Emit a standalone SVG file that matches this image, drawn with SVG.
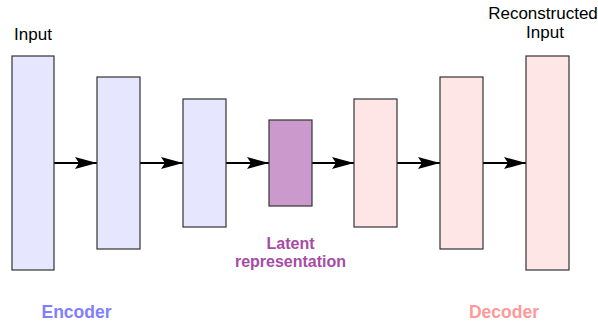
<svg xmlns="http://www.w3.org/2000/svg" width="598" height="327" viewBox="0 0 598 327">
<style>
  .enc { fill: #e6e6ff; stroke: #333333; stroke-width: 1.2; }
  .dec { fill: #ffe6e6; stroke: #333333; stroke-width: 1.2; }
  .lat { fill: #cc99cc; stroke: #333333; stroke-width: 1.2; }
  .lbl { font-family: "Liberation Sans", Arial, sans-serif; font-size: 17px; fill: #000000; text-anchor: middle; }
  .bold { font-family: "Liberation Sans", Arial, sans-serif; font-weight: bold; text-anchor: middle; }
  .edge { stroke: #000000; stroke-width: 1.8; fill: none; marker-end: url(#arrow); }
</style>
<defs>
  <marker id="arrow" viewBox="0 0 22 12" refX="22" refY="6" markerWidth="22" markerHeight="12" markerUnits="userSpaceOnUse" orient="auto">
    <path d="M0,0 L22,6 L0,12 L4,6 Z" fill="#000000"/>
  </marker>
</defs>
<rect width="598" height="327" fill="#ffffff"/>
<g id="connectors">
  <line class="edge" x1="54" y1="163" x2="97" y2="163"/>
  <line class="edge" x1="140" y1="163" x2="183" y2="163"/>
  <line class="edge" x1="226" y1="163" x2="269" y2="163"/>
  <line class="edge" x1="312" y1="163" x2="354" y2="163"/>
  <line class="edge" x1="397" y1="163" x2="440" y2="163"/>
  <line class="edge" x1="483" y1="163" x2="526" y2="163"/>
</g>
<g id="enc1"><rect class="enc" x="12" y="56" width="42" height="214"/></g>
<g id="enc2"><rect class="enc" x="97" y="77" width="43" height="172"/></g>
<g id="enc3"><rect class="enc" x="183" y="99" width="43" height="128"/></g>
<g id="latent"><rect class="lat" x="269" y="120" width="43" height="86"/></g>
<g id="dec1"><rect class="dec" x="354" y="99" width="43" height="128"/></g>
<g id="dec2"><rect class="dec" x="440" y="77" width="43" height="172"/></g>
<g id="dec3"><rect class="dec" x="526" y="56" width="43" height="214"/></g>
<g id="label-input"><text class="lbl" x="33" y="40">Input</text></g>
<g id="label-reconstructed"><text class="lbl" x="543" y="19" font-size="14.5">Reconstructed</text><text class="lbl" x="545" y="38" font-size="15">Input</text></g>
<g id="label-latent"><text class="bold" x="290.5" y="249" font-size="16" fill="#a64ca6">Latent</text><text class="bold" x="290.5" y="267" font-size="16" fill="#a64ca6">representation</text></g>
<g id="label-encoder"><text class="bold" x="76.5" y="318" font-size="17.5" fill="#7f7fff">Encoder</text></g>
<g id="label-decoder"><text class="bold" x="504" y="318" font-size="17.5" fill="#ff9999">Decoder</text></g>
</svg>
